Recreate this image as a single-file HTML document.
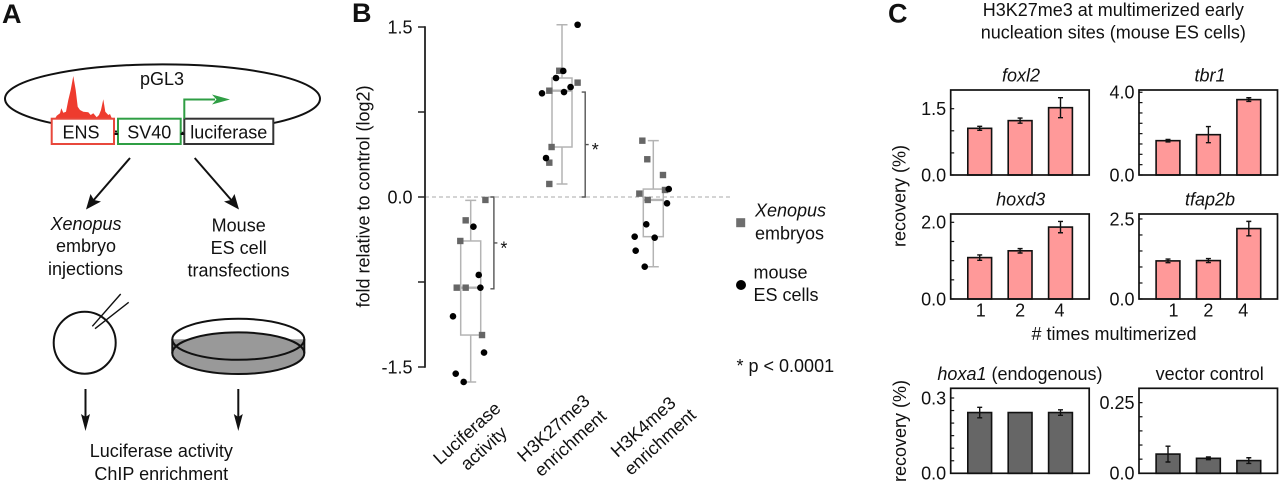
<!DOCTYPE html>
<html lang="en">
<head>
<meta charset="utf-8">
<title>H3K27me3 early nucleation sites figure</title>
<style>
html,body{margin:0;padding:0;background:#fff;width:1280px;height:484px;overflow:hidden}
svg{display:block}
text{font-family:"Liberation Sans",sans-serif;font-size:18px;fill:#111}
.panel{font-weight:bold;font-size:27px;fill:#111}
.it{font-style:italic}
</style>
</head>
<body>
<svg id="fig" xmlns="http://www.w3.org/2000/svg" width="1280" height="484" viewBox="0 0 1280 484">
  <!-- PANEL A -->
  <g>
    <text class="panel" x="2" y="23">A</text>
    <ellipse cx="162.5" cy="98.7" rx="157.5" ry="34.3" fill="none" stroke="#111" stroke-width="2"/>
    <polygon points="55,118.7 56.7,115.7 60,113.3 61.3,108.3 63.3,112.7 66,111.7 68.3,100 70.7,90 73.3,76 75.7,90 77.7,106.7 80,110 83.3,111.7 88.3,112.3 90.7,115 93.3,113.3 96.7,117.3 99,115 101,110 103.3,99.3 105.3,111.7 108.3,115 110,114 112,118.7" fill="#ee3b2e"/>
    <rect x="51.7" y="118.7" width="62.3" height="25.3" fill="#fff" stroke="#e8483c" stroke-width="2"/>
    <rect x="118" y="118.7" width="62.7" height="25.3" fill="#fff" stroke="#2f9e44" stroke-width="2"/>
    <rect x="184.3" y="118.7" width="89" height="25.3" fill="#fff" stroke="#333" stroke-width="2"/>
    <path d="M114.5 134H118M180.7 134H184.3" stroke="#111" stroke-width="2" fill="none"/>
    <path d="M184.3 118.7V99.5H215" stroke="#2f9e44" stroke-width="2" fill="none"/>
    <polygon points="230,99.5 212,94.5 216.5,99.5 212,104.5" fill="#2f9e44"/>
    <text x="162" y="85" text-anchor="middle">pGL3</text>
    <text x="81" y="138.5" text-anchor="middle">ENS</text>
    <text x="149.3" y="138.5" text-anchor="middle">SV40</text>
    <text x="228.8" y="138.5" text-anchor="middle">luciferase</text>

    <line x1="130" y1="158" x2="92" y2="202" stroke="#111" stroke-width="2"/>
    <polygon points="86,209.5 90.5,194 94,200 101,201.5" fill="#111"/>
    <line x1="194.7" y1="158" x2="233" y2="202" stroke="#111" stroke-width="2"/>
    <polygon points="239,209.5 224,201.5 231,200 234.5,194" fill="#111"/>

    <text x="86" y="230" text-anchor="middle" class="it">Xenopus</text>
    <text x="86" y="252" text-anchor="middle">embryo</text>
    <text x="85.5" y="275" text-anchor="middle">injections</text>
    <text x="238.7" y="231.5" text-anchor="middle">Mouse</text>
    <text x="238.7" y="254" text-anchor="middle">ES cell</text>
    <text x="238.5" y="276.5" text-anchor="middle">transfections</text>

    <circle cx="84.7" cy="342.7" r="31" fill="none" stroke="#111" stroke-width="2"/>
    <path d="M120.7 294L92.3 326.3M128.7 302.3L95 328.7" stroke="#111" stroke-width="1.4" fill="none"/>

    <g>
      <path d="M172.3 339.3H304.3V353.2H172.3Z" fill="#999" stroke="none"/>
      <ellipse cx="238.3" cy="353.2" rx="66" ry="20.8" fill="#999" stroke="#111" stroke-width="2"/>
      <path d="M172.3 339.3V353.2M304.3 339.3V353.2" fill="none" stroke="#111" stroke-width="2"/>
      <ellipse cx="238.3" cy="339.3" rx="66" ry="20.5" fill="none" stroke="#111" stroke-width="2"/>
    </g>

    <line x1="85.5" y1="389" x2="85.5" y2="420" stroke="#111" stroke-width="2"/>
    <polygon points="85.5,431 81,414 85.5,417 90,414" fill="#111"/>
    <line x1="238.3" y1="389" x2="238.3" y2="420" stroke="#111" stroke-width="2"/>
    <polygon points="238.3,431 233.8,414 238.3,417 242.8,414" fill="#111"/>
    <text x="161.3" y="457" text-anchor="middle">Luciferase activity</text>
    <text x="161.3" y="480" text-anchor="middle">ChIP enrichment</text>
  </g>

  <!-- PANEL B static -->
  <g id="panelB">
    <text class="panel" x="352" y="22">B</text>
    <text transform="translate(369.5,196.5) rotate(-90)" text-anchor="middle">fold relative to control (log2)</text>
    <rect x="736.2" y="218.2" width="9" height="9" fill="#6e6e6e"/>
    <text x="755" y="216.7" class="it">Xenopus</text>
    <text x="755" y="239.3">embryos</text>
    <circle cx="741" cy="285" r="5" fill="#000"/>
    <text x="753.5" y="278.7">mouse</text>
    <text x="753.5" y="301">ES cells</text>
    <text x="736.5" y="372">* p &lt; 0.0001</text>
  </g>

  <!-- PANEL C static -->
  <g id="panelC">
    <text class="panel" x="888" y="22.5">C</text>
    <text x="1113.3" y="16" text-anchor="middle">H3K27me3 at multimerized early</text>
    <text x="1113.3" y="38.5" text-anchor="middle">nucleation sites (mouse ES cells)</text>
    <text transform="translate(905.5,196) rotate(-90)" text-anchor="middle">recovery (%)</text>
    <text transform="translate(906,431) rotate(-90)" text-anchor="middle">recovery (%)</text>
    <text x="1114" y="340" text-anchor="middle"># times multimerized</text>
    <text x="1021" y="81.7" text-anchor="middle" class="it">foxl2</text>
    <text x="1210" y="81.7" text-anchor="middle" class="it">tbr1</text>
    <text x="1020.7" y="205.7" text-anchor="middle" class="it">hoxd3</text>
    <text x="1210" y="205.7" text-anchor="middle" class="it">tfap2b</text>
    <text x="1020" y="380" text-anchor="middle"><tspan class="it">hoxa1</tspan> (endogenous)</text>
    <text x="1209.7" y="380" text-anchor="middle">vector control</text>
  </g>
</svg>

<script>
/* ---------- Panel B data (log2 fold change) ---------- */
var boxCategoryLines = [["Luciferase","activity"],["H3K27me3","enrichment"],["H3K4me3","enrichment"]];
var boxTickValues = [1.5,0.75,0,-0.75,-1.5];
var boxTickLabels = ["1.5","","0.0","","-1.5"];
var whiskerHigh = [-0.03,1.52,0.497];
var quartile3 = [-0.388,1.05,0.07];
var medians = [-0.80,0.938,-0.026];
var quartile1 = [-1.218,0.441,-0.35];
var whiskerLow = [-1.632,0.115,-0.615];

var xenopusLuciferase = [-0.026,-0.206,-0.388,-0.80,-0.80,-1.218];
var xenopusLuciferaseJitter = [0.161,-0.055,-0.114,-0.153,-0.055,0.124];
var xenopusH3K27 = [1.114,1.009,0.938,0.441,0.303,0.115];
var xenopusH3K27Jitter = [-0.03,0.171,-0.139,-0.114,-0.139,-0.139];
var xenopusH3K4 = [0.497,0.333,0.194,0.03,0.062,-0.026];
var xenopusH3K4Jitter = [-0.12,-0.066,0.106,-0.153,0.128,-0.061];

var mouseLuciferase = [-0.262,-0.688,-0.80,-1.053,-1.373,-1.559,-1.632];
var mouseLuciferaseJitter = [0.03,0.088,0.106,-0.194,0.146,-0.164,-0.077];
var mouseH3K27 = [1.52,1.112,1.05,0.97,0.926,0.915,0.344];
var mouseH3K27Jitter = [0.171,0.014,-0.066,0.094,0.022,-0.219,-0.175];
var mouseH3K4 = [0.07,-0.056,-0.241,-0.35,-0.359,-0.474,-0.615];
var mouseH3K4Jitter = [0.169,0.15,-0.077,-0.204,0.015,-0.193,-0.094];

/* significance brackets: [category, from value, to value] */
var bracketCategories = [0,1];
var bracketFrom = [0,0];
var bracketTo = [-0.81,0.926];

/* ---------- Panel C data (recovery %) ---------- */
var multimerLabels = ["1","2","4"];

var foxl2Values = [1.056,1.23,1.523];
var foxl2Errors = [0.045,0.057,0.226];
var foxl2Ticks = [0,0.5,1,1.5];
var foxl2TickLabels = ["0.0","","","1.5"];

var tbr1Values = [1.66,1.95,3.645];
var tbr1Errors = [0.06,0.39,0.09];
var tbr1Ticks = [0,0.5,1,1.5,2,2.5,3,3.5,4];
var tbr1TickLabels = ["0.0","","","","","","","","4.0"];

var hoxd3Values = [1.08,1.257,1.876];
var hoxd3Errors = [0.07,0.057,0.148];
var hoxd3Ticks = [0,0.5,1,1.5,2];
var hoxd3TickLabels = ["0.0","","","","2.0"];

var tfap2bValues = [1.19,1.2,2.2];
var tfap2bErrors = [0.057,0.063,0.225];
var tfap2bTicks = [0,0.5,1,1.5,2,2.5];
var tfap2bTickLabels = ["0.0","","","","","2.5"];

var hoxa1Values = [0.242,0.242,0.242];
var hoxa1Errors = [0.021,0,0.011];
var hoxa1Ticks = [0,0.05,0.1,0.15,0.2,0.25,0.3];
var hoxa1TickLabels = ["0.0","","","","","","0.3"];

var vectorValues = [0.068,0.053,0.045];
var vectorErrors = [0.028,0.005,0.01];
var vectorTicks = [0,0.05,0.1,0.15,0.2,0.25];
var vectorTickLabels = ["0.0","","","","","0.25"];

/* ---------- helpers ---------- */
var NS = "http://www.w3.org/2000/svg";
function mk(tag, attrs, parent){
  var el = document.createElementNS(NS, tag);
  for (var k in attrs) el.setAttribute(k, attrs[k]);
  parent.appendChild(el);
  return el;
}
function txt(attrs, parent, s){
  var el = mk("text", attrs, parent);
  el.textContent = s;
  return el;
}

/* ---------- Panel B ---------- */
var panelB = document.getElementById("panelB");
function by(v){ return 197 - v * 113.33; }
function bx(c){ return 470.7 + c * 91.3; }

(function(){
  var i, el;
  el = mk("line",{x1:425,x2:732,y1:by(0),y2:by(0),stroke:"#aaa","stroke-width":1,"stroke-dasharray":"4 3"},panelB);
  
  

  el = mk("line",{x1:425,x2:425,y1:by(1.5)-0.8,y2:by(-1.5)+0.8,stroke:"#222","stroke-width":1.8},panelB);
  
  

  boxTickValues.forEach(function(v,idx){
    var t = mk("line",{x1:418,x2:425,y1:by(v),y2:by(v),stroke:"#222","stroke-width":1.5},panelB);
    
    
    if (boxTickLabels[idx]) {
      var l = txt({x:412.5,y:by(v)+6.3,"text-anchor":"end"},panelB,boxTickLabels[idx]);
      
      
    }
  });

  for (i=0;i<3;i++){
    var cx = bx(i), g = mk("g",{},panelB);
    
    
    var sty = {stroke:"#b4b4b4","stroke-width":1.5,fill:"none"};
    mk("path",Object.assign({d:"M"+cx+" "+by(whiskerHigh[i])+"V"+by(quartile3[i])+"M"+cx+" "+by(quartile1[i])+"V"+by(whiskerLow[i])+
      "M"+(cx-5.5)+" "+by(whiskerHigh[i])+"h11M"+(cx-5.5)+" "+by(whiskerLow[i])+"h11"},sty),g);
    mk("rect",Object.assign({x:cx-10,y:by(quartile3[i]),width:20,height:by(quartile1[i])-by(quartile3[i])},sty),g);
    mk("line",{x1:cx-10,x2:cx+10,y1:by(medians[i]),y2:by(medians[i]),stroke:"#b4b4b4","stroke-width":2.4},g);
  }

  bracketCategories.forEach(function(c,k){
    var x = bx(c)+23.2, y0 = by(bracketFrom[k]), y1 = by(bracketTo[k]), mid=(y0+y1)/2;
    var b = mk("path",{d:"M"+(x-3.5)+" "+y0+"H"+x+"V"+y1+"H"+(x-3.5)+"M"+x+" "+mid+"h3.5",stroke:"#555","stroke-width":1.4,fill:"none"},panelB);
    
    
    var s = txt({x:x+10,y:mid+11.5,"text-anchor":"middle"},panelB,"*");
    
    
  });

  var xenSets = [[xenopusLuciferase,xenopusLuciferaseJitter],[xenopusH3K27,xenopusH3K27Jitter],[xenopusH3K4,xenopusH3K4Jitter]];
  var mouseSets = [[mouseLuciferase,mouseLuciferaseJitter],[mouseH3K27,mouseH3K27Jitter],[mouseH3K4,mouseH3K4Jitter]];
  xenSets.forEach(function(set,c){
    set[0].forEach(function(v,j){
      var p = mk("rect",{x:bx(c+set[1][j])-3.2,y:by(v)-3.2,width:6.4,height:6.4,fill:"#666"},panelB);
      
      
    });
  });
  mouseSets.forEach(function(set,c){
    set[0].forEach(function(v,j){
      var p = mk("circle",{cx:bx(c+set[1][j]),cy:by(v),r:3.3,fill:"#000"},panelB);
      
      
    });
  });

  boxCategoryLines.forEach(function(lines,c){
    var cxs = bx(c) + (c===0?-4:(c===1?-8.7:-10.3));
    var cys = c===0?433:(c===1?428:426.7);
    lines.forEach(function(s,n){
      var l = txt({transform:"translate("+(cxs+n*16.8)+","+(cys+n*15)+") rotate(-42)",y:6.3,"text-anchor":"middle"},panelB,s);
      
      
    });
  });
})();

/* ---------- Panel C ---------- */
var panelC = document.getElementById("panelC");
function barChart(name,left,bottom,domainMax,values,errors,ticks,tickLabels,fill,xLabels,labelSpread){
  var W = 138.5, H = 85;
  var g = mk("g",{},panelC);
  
  
  function y(v){ return bottom - v/domainMax*H; }
  function x(i){ return left + 29 + 40.4*i; }

  values.forEach(function(v,i){
    var b = mk("rect",{x:x(i)-11.9,y:y(v),width:23.8,height:bottom-y(v),fill:fill,stroke:"#111","stroke-width":1.6},g);
    
    
  });
  errors.forEach(function(e,i){
    if (!e) return;
    var yt=y(values[i]+e), yb=y(values[i]-e), xc=x(i);
    var p = mk("path",{d:"M"+xc+" "+yt+"V"+yb+"M"+(xc-2.5)+" "+yt+"h5M"+(xc-2.5)+" "+yb+"h5",stroke:"#111","stroke-width":1.4,fill:"none"},g);
    
    
  });
  var frame = mk("rect",{x:left,y:bottom-H,width:W,height:H,fill:"none",stroke:"#111","stroke-width":1.7},g);
  
  
  ticks.forEach(function(v,i){
    var t = mk("line",{x1:left,x2:left+3.5,y1:y(v),y2:y(v),stroke:"#111","stroke-width":1.2},g);
    
    
    if (tickLabels[i]) {
      var l = txt({x:left-4.5,y:y(v)+6.3,"text-anchor":"end"},g,tickLabels[i]);
      
      
    }
  });
  if (xLabels) {
    xLabels.forEach(function(s,i){
      var l = txt({x:x(i)+(1-i)*labelSpread,y:bottom+17.7,"text-anchor":"middle"},g,s);
      
      
    });
  }
}
barChart("foxl2",950.7,175,1.923,foxl2Values,foxl2Errors,foxl2Ticks,foxl2TickLabels,"#ff9999",null,0);
barChart("tbr1",1139,175,4.11,tbr1Values,tbr1Errors,tbr1Ticks,tbr1TickLabels,"#ff9999",null,0);
barChart("hoxd3",950.7,299,2.217,hoxd3Values,hoxd3Errors,hoxd3Ticks,hoxd3TickLabels,"#ff9999",multimerLabels,1);
barChart("tfap2b",1139,299,2.655,tfap2bValues,tfap2bErrors,tfap2bTicks,tfap2bTickLabels,"#ff9999",multimerLabels,5.5);
barChart("hoxa1",950.7,473.3,0.3386,hoxa1Values,hoxa1Errors,hoxa1Ticks,hoxa1TickLabels,"#666666",null,0);
barChart("vector-control",1139,473.3,0.3007,vectorValues,vectorErrors,vectorTicks,vectorTickLabels,"#666666",null,0);
</script>
</body>
</html>
